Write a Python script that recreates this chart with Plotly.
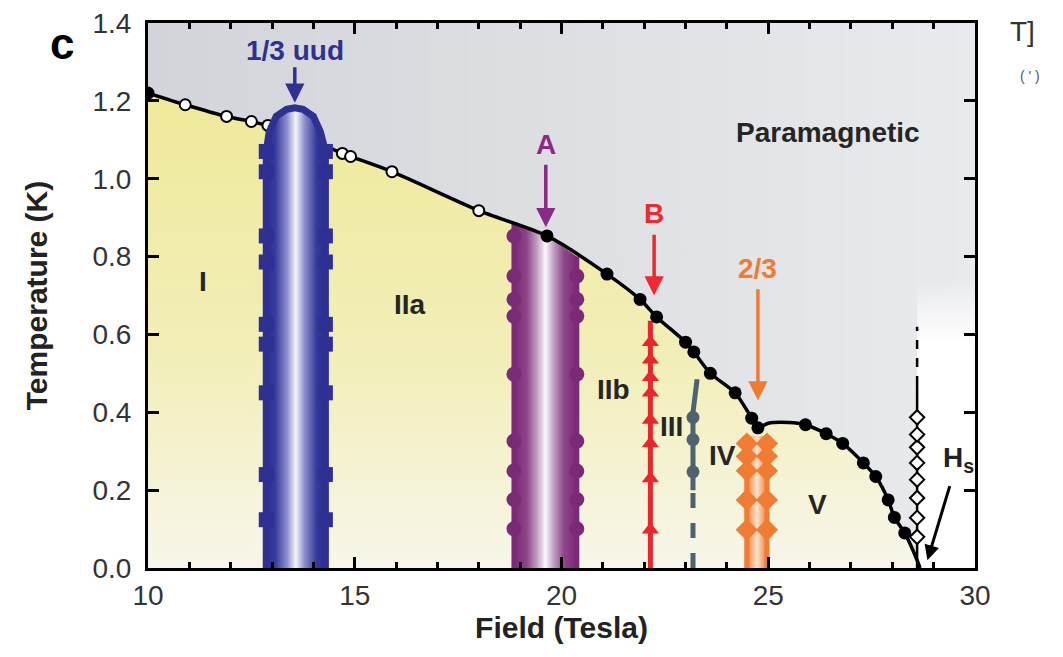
import plotly.graph_objects as go

# ---------------- data ----------------
X_RANGE = [10, 30]
Y_RANGE = [0, 1.4]
x_ticks = [10, 15, 20, 25, 30]
y_ticks = [0.0, 0.2, 0.4, 0.6, 0.8, 1.0, 1.2, 1.4]
y_tick_labels = ['0.0', '0.2', '0.4', '0.6', '0.8', '1.0', '1.2', '1.4']

# phase boundary (paramagnetic transition)
bnd_F = [10.0, 10.9, 11.9, 12.5, 12.9, 13.5, 14.1, 14.7, 14.9, 15.9, 18.0, 19.65, 21.1, 21.9, 22.3,
         23.0, 23.2, 23.6, 24.2, 24.6, 24.75, 25.0, 25.5, 25.9, 26.4, 26.8, 27.3, 27.6, 27.9, 28.05,
         28.3, 28.6, 28.67]
bnd_T = [1.22, 1.19, 1.16, 1.147, 1.137, 1.135, 1.095, 1.065, 1.057, 1.018, 0.918, 0.853, 0.755, 0.69, 0.645,
         0.58, 0.555, 0.50, 0.45, 0.385, 0.36, 0.372, 0.374, 0.368, 0.345, 0.32, 0.27, 0.235, 0.175, 0.13,
         0.09, 0.02, 0.0]
bnd_kind = ['filled', 'open', 'open', 'open', 'open', 'none', 'open', 'open', 'open', 'open', 'open', 'filled',
            'filled', 'filled', 'filled', 'filled', 'filled', 'filled', 'filled', 'filled', 'filled', 'none', 'none',
            'filled', 'filled', 'filled', 'filled', 'filled', 'filled', 'filled', 'filled', 'none', 'none']

# 1/3 uud plateau
uud_left, uud_right = 12.86, 14.29
uud_T = [0.124, 0.24, 0.45, 0.575, 0.626, 0.786, 0.853, 1.018, 1.07]
uud_dome_F = [12.86, 12.93, 13.1, 13.35, 13.55, 13.75, 14.0, 14.17, 14.29]
uud_dome_T = [1.07, 1.12, 1.16, 1.178, 1.182, 1.178, 1.16, 1.12, 1.07]

# A transition
A_left, A_right = 18.85, 20.37
A_top_F = [18.85, 19.65, 20.37]
A_top_T = [0.885, 0.853, 0.80]
A_left_T = [0.101, 0.176, 0.249, 0.326, 0.498, 0.647, 0.69, 0.75, 0.853]
A_right_T = [0.101, 0.176, 0.249, 0.326, 0.498, 0.647, 0.69, 0.75]

# B transition
B_F = 22.15
B_top = 0.635
B_T = [0.098, 0.23, 0.32, 0.38, 0.45, 0.49, 0.535, 0.58]

# III boundary
III_F = [23.18, 23.18, 23.28]
III_T = [0.2, 0.40, 0.485]
III_dash_T = [0.0, 0.2]
III_marks = [0.247, 0.33, 0.387]

# 2/3 plateau
P23_left, P23_right = 24.48, 24.97
P23_top = 0.34
P23_T = [0.098, 0.175, 0.25, 0.287, 0.32]

# saturation field Hs
Hs_F = 28.6
Hs_T = [0.08, 0.129, 0.18, 0.227, 0.27, 0.31, 0.343, 0.387]
Hs_solid_top = 0.47
Hs_dash_top = 0.62

region_labels = ['I', 'IIa', 'IIb', 'III', 'IV', 'V', 'Paramagnetic']
region_F = [11.33, 16.34, 21.25, 22.67, 23.9, 26.2, 26.44]
region_T = [0.735, 0.678, 0.459, 0.363, 0.29, 0.162, 1.12]

arrow_labels = ['1/3 uud', 'A', 'B', '2/3']
arrow_F = [13.55, 19.62, 22.24, 24.75]
arrow_text_T = [1.33, 1.088, 0.91, 0.77]
arrow_from_T = [1.29, 1.04, 0.86, 0.72]
arrow_to_T = [1.195, 0.875, 0.70, 0.43]
arrow_colors = ['#2e3192', '#8b2a86', '#ec2a30', '#f07b32']

# ---------------- style ----------------
FONT = 'Liberation Sans, Arial, Helvetica, sans-serif'
BLUE = '#2e3192'
PURPLE = '#7b2a78'
RED = '#e8262b'
GREY = '#4f636e'
ORANGE = '#f07b32'

fig = go.Figure()

# paramagnetic background gradient
fig.add_trace(go.Scatter(
    x=[X_RANGE[0], X_RANGE[1], X_RANGE[1], X_RANGE[0], X_RANGE[0]],
    y=[Y_RANGE[0], Y_RANGE[0], Y_RANGE[1], Y_RANGE[1], Y_RANGE[0]],
    mode='none', fill='toself',
    fillgradient=dict(type='horizontal', colorscale=[[0, '#d3d4d9'], [1, '#e9eaed']]),
    hoverinfo='skip', showlegend=False))

# white region beyond Hs
fig.add_trace(go.Scatter(
    x=[Hs_F, X_RANGE[1], X_RANGE[1], Hs_F, Hs_F],
    y=[0, 0, Hs_dash_top + 0.12, Hs_dash_top + 0.12, 0],
    mode='none', fill='toself',
    fillgradient=dict(type='vertical',
                      colorscale=[[0, 'rgba(255,255,255,1)'], [0.78, 'rgba(255,255,255,1)'],
                                  [1, 'rgba(255,255,255,0)']]),
    hoverinfo='skip', showlegend=False))

# ordered phase (yellow) region
fig.add_trace(go.Scatter(
    x=bnd_F, y=bnd_T, mode='none', fill='tozeroy', line=dict(shape='spline', smoothing=0.7),
    fillgradient=dict(type='vertical', colorscale=[[0, '#f7f6ea'], [0.45, '#f2eeb8'], [1, '#efe99a']]),
    hoverinfo='skip', showlegend=False))

# A band
A_poly_F = [A_left] + A_top_F + [A_right, A_left]
A_poly_T = [0] + A_top_T + [0, 0]
fig.add_trace(go.Scatter(
    x=A_poly_F, y=A_poly_T, mode='none', fill='toself',
    fillgradient=dict(type='horizontal', colorscale=[[0, PURPLE], [0.2, '#8c4489'], [0.38, '#c6a6c4'],
                                                     [0.5, '#fbf7fb'], [0.62, '#c6a6c4'], [0.8, '#8c4489'],
                                                     [1, PURPLE]]),
    hoverinfo='skip', showlegend=False))
fig.add_trace(go.Scatter(x=[A_left, A_left], y=[0, A_top_T[0]], mode='lines',
                         line=dict(color=PURPLE, width=5), hoverinfo='skip', showlegend=False))
fig.add_trace(go.Scatter(x=[A_right, A_right], y=[0, A_top_T[-1]], mode='lines',
                         line=dict(color=PURPLE, width=5), hoverinfo='skip', showlegend=False))
fig.add_trace(go.Scatter(x=[A_left] * len(A_left_T) + [A_right] * len(A_right_T), y=A_left_T + A_right_T,
                         mode='markers', marker=dict(symbol='circle', size=15, color=PURPLE),
                         hoverinfo='skip', showlegend=False))

# 2/3 band
fig.add_trace(go.Scatter(
    x=[P23_left, P23_left, P23_right, P23_right, P23_left], y=[0, P23_top, P23_top, 0, 0],
    mode='none', fill='toself',
    fillgradient=dict(type='horizontal', colorscale=[[0, ORANGE], [0.5, '#fde3d0'], [1, ORANGE]]),
    hoverinfo='skip', showlegend=False))
for f in (P23_left, P23_right):
    fig.add_trace(go.Scatter(x=[f, f], y=[0, P23_top], mode='lines', line=dict(color=ORANGE, width=5),
                             hoverinfo='skip', showlegend=False))
    fig.add_trace(go.Scatter(x=[f] * len(P23_T), y=P23_T, mode='markers',
                             marker=dict(symbol='diamond', size=17, color=ORANGE),
                             hoverinfo='skip', showlegend=False))

# B line
fig.add_trace(go.Scatter(x=[B_F, B_F], y=[0, B_top], mode='lines', line=dict(color=RED, width=5),
                         hoverinfo='skip', showlegend=False))
fig.add_trace(go.Scatter(x=[B_F] * len(B_T), y=B_T, mode='markers',
                         marker=dict(symbol='triangle-up', size=15, color=RED),
                         hoverinfo='skip', showlegend=False))

# III line
fig.add_trace(go.Scatter(x=III_F, y=III_T, mode='lines', line=dict(color=GREY, width=5),
                         hoverinfo='skip', showlegend=False))
fig.add_trace(go.Scatter(x=[III_F[0], III_F[0]], y=III_dash_T, mode='lines',
                         line=dict(color=GREY, width=5, dash='dash'), hoverinfo='skip', showlegend=False))
fig.add_trace(go.Scatter(x=[III_F[0]] * len(III_marks), y=III_marks, mode='markers',
                         marker=dict(symbol='circle', size=13, color=GREY),
                         hoverinfo='skip', showlegend=False))

# phase boundary line
fig.add_trace(go.Scatter(x=bnd_F, y=bnd_T, mode='lines', line=dict(color='black', width=3.5,
                         shape='spline', smoothing=0.7), hoverinfo='skip', showlegend=False))
fF = [f for f, k in zip(bnd_F, bnd_kind) if k == 'filled']
fT = [t for t, k in zip(bnd_T, bnd_kind) if k == 'filled']
oF = [f for f, k in zip(bnd_F, bnd_kind) if k == 'open']
oT = [t for t, k in zip(bnd_T, bnd_kind) if k == 'open']
fig.add_trace(go.Scatter(x=fF, y=fT, mode='markers', marker=dict(symbol='circle', size=13, color='black'),
                         hoverinfo='skip', showlegend=False))
fig.add_trace(go.Scatter(x=oF, y=oT, mode='markers',
                         marker=dict(symbol='circle', size=11, color='white', line=dict(color='black', width=2)),
                         hoverinfo='skip', showlegend=False))

# uud dome (on top of boundary line)
uud_out_F = [uud_left] + uud_dome_F + [uud_right, uud_left]
uud_out_T = [0] + uud_dome_T + [0, 0]
fig.add_trace(go.Scatter(
    x=uud_out_F, y=uud_out_T, mode='none', fill='toself',
    fillgradient=dict(type='horizontal', colorscale=[[0, BLUE], [0.15, '#353a9c'], [0.35, '#8a8ecb'],
                                                     [0.5, '#f5f5fb'], [0.65, '#8a8ecb'], [0.85, '#353a9c'],
                                                     [1, BLUE]]),
    hoverinfo='skip', showlegend=False))
fig.add_trace(go.Scatter(x=uud_out_F[:-1], y=uud_out_T[:-1], mode='lines', line=dict(color=BLUE, width=7),
                         hoverinfo='skip', showlegend=False))
fig.add_trace(go.Scatter(x=[uud_left] * len(uud_T) + [uud_right] * len(uud_T), y=uud_T + uud_T,
                         mode='markers', marker=dict(symbol='square', size=15, color=BLUE),
                         hoverinfo='skip', showlegend=False))

# Hs line
fig.add_trace(go.Scatter(x=[Hs_F, Hs_F], y=[0, Hs_solid_top], mode='lines', line=dict(color='black', width=2.5),
                         hoverinfo='skip', showlegend=False))
fig.add_trace(go.Scatter(x=[Hs_F, Hs_F], y=[Hs_solid_top, Hs_dash_top], mode='lines',
                         line=dict(color='black', width=2.5, dash='dash'), hoverinfo='skip', showlegend=False))
fig.add_trace(go.Scatter(x=[Hs_F] * len(Hs_T), y=Hs_T, mode='markers',
                         marker=dict(symbol='diamond', size=11, color='white', line=dict(color='black', width=2)),
                         hoverinfo='skip', showlegend=False))

annotations = []
for lab, f, t in zip(region_labels, region_F, region_T):
    annotations.append(dict(x=f, y=t, xref='x', yref='y', text=lab, showarrow=False,
                            xanchor='center', yanchor='middle',
                            font=dict(family=FONT, size=28, color='#252525', weight='bold')))
for lab, f, tt, t0, t1, c in zip(arrow_labels, arrow_F, arrow_text_T, arrow_from_T, arrow_to_T, arrow_colors):
    annotations.append(dict(x=f, y=tt, xref='x', yref='y', text=lab, showarrow=False,
                            xanchor='center', yanchor='middle',
                            font=dict(family=FONT, size=28, color=c, weight='bold')))
    annotations.append(dict(x=f, y=t1, ax=f, ay=t0, xref='x', yref='y', axref='x', ayref='y', text='',
                            showarrow=True, arrowhead=2, arrowsize=1.1, arrowwidth=3.5, arrowcolor=c))
# Hs label and arrow
annotations.append(dict(x=29.6, y=0.28, xref='x', yref='y', text='H<sub>s</sub>', showarrow=False,
                        xanchor='center', yanchor='middle',
                        font=dict(family=FONT, size=28, color='#222222', weight='bold')))
annotations.append(dict(x=28.85, y=0.02, ax=29.4, ay=0.214, xref='x', yref='y', axref='x', ayref='y', text='',
                        showarrow=True, arrowhead=2, arrowsize=1, arrowwidth=3, arrowcolor='black'))
# panel letter and cropped artefacts
annotations.append(dict(x=-0.104, y=0.963, xref='paper', yref='paper', text='c', showarrow=False,
                        xanchor='center', yanchor='middle',
                        font=dict(family=FONT, size=44, color='black', weight='bold')))
annotations.append(dict(x=1.057, y=0.985, xref='paper', yref='paper', text='T]', showarrow=False,
                        xanchor='center', yanchor='middle',
                        font=dict(family=FONT, size=28, color='#333333')))
annotations.append(dict(x=1.067, y=0.903, xref='paper', yref='paper', text='( \' )', showarrow=False,
                        xanchor='center', yanchor='middle',
                        font=dict(family=FONT, size=14, color='#555555')))

axis_common = dict(showgrid=False, zeroline=False, showline=True, linecolor='black', linewidth=3,
                   mirror='allticks', ticks='inside', tickcolor='black', tickwidth=3, ticklen=11,
                   ticklabeloverflow='allow', automargin=False,
                   tickfont=dict(family=FONT, size=28, color='#333333'))

fig.update_layout(
    width=1063, height=657,
    margin=dict(l=140, r=96, t=15, b=97),
    paper_bgcolor='white', plot_bgcolor='#dfe0e4',
    showlegend=False,
    xaxis=dict(range=X_RANGE, tickmode='array', tickvals=x_ticks,
               minor=dict(dtick=1, tick0=10, ticks='inside', ticklen=6, tickwidth=3, tickcolor='black'),
               title=dict(text='Field (Tesla)', font=dict(family=FONT, size=30, color='#222222', weight='bold'),
                          standoff=8),
               **axis_common),
    yaxis=dict(range=Y_RANGE, tickmode='array', tickvals=y_ticks, ticktext=y_tick_labels,
               ticklabelstandoff=8,
               title=dict(text='Temperature (K)', font=dict(family=FONT, size=30, color='#222222', weight='bold'),
                          standoff=36),
               **axis_common),
    annotations=annotations,
)

fig.write_html('out.html')
